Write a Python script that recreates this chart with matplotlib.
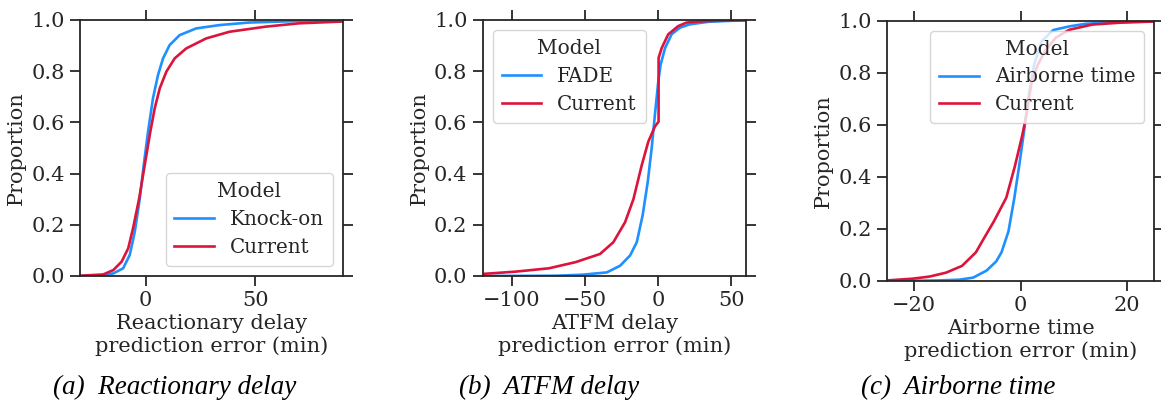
import numpy as np
import matplotlib
matplotlib.use("Agg")
import matplotlib.pyplot as plt

# ECDF curves: x = prediction error (min), p = proportion
# (a) Reactionary delay
knockon_x = [-30, -21, -14.8, -10.3, -7.3, -5.0, -2.7, -0.9, 1.06, 3.3, 5.6, 7.9, 10.9, 15.5, 23, 33.6, 47, 70, 90]
knockon_p = [0.0, 0.002, 0.01, 0.03, 0.082, 0.173, 0.303, 0.434, 0.564, 0.694, 0.785, 0.85, 0.902, 0.941, 0.967, 0.98, 0.99, 0.996, 0.998]
curr_a_x = [-30, -19.4, -14.8, -11, -8.0, -5.8, -3.0, -0.45, 2.1, 4.1, 6.4, 9.4, 13.2, 18.5, 27.6, 38.2, 54.8, 70, 90]
curr_a_p = [0.001, 0.006, 0.023, 0.056, 0.108, 0.186, 0.303, 0.434, 0.564, 0.655, 0.733, 0.798, 0.85, 0.889, 0.928, 0.954, 0.974, 0.987, 0.994]

# (b) ATFM delay
fade_x = [-120, -70, -52, -35.2, -26.1, -19.3, -14.7, -10.7, -7.2, -4.5, -2.3, 0, 1.6, 4.6, 9.1, 14.8, 21.6, 34.4, 50.3, 61]
fade_p = [0.0, 0.001, 0.005, 0.014, 0.04, 0.08, 0.132, 0.237, 0.368, 0.5, 0.63, 0.76, 0.826, 0.89, 0.944, 0.97, 0.983, 0.993, 0.997, 0.999]
curr_b_x = [-120, -97.5, -74.8, -56.6, -39.8, -30.7, -22.7, -17, -11.3, -6.8, -2.3, 0.2, 0.2, 2.3, 6.8, 13.6, 19.4, 30, 40, 61]
curr_b_p = [0.008, 0.017, 0.03, 0.054, 0.086, 0.132, 0.21, 0.30, 0.433, 0.525, 0.584, 0.603, 0.852, 0.89, 0.944, 0.976, 0.99, 0.995, 0.997, 0.999]

# (c) Airborne time
airborne_x = [-25, -15.8, -11.5, -8.9, -6.4, -4.6, -3.6, -2.3, -1.2, -0.26, 0.62, 1.4, 2.5, 3.9, 6.1, 9.1, 12.2, 18.4, 25.3]
airborne_p = [0.0, 0.002, 0.005, 0.013, 0.04, 0.075, 0.11, 0.19, 0.318, 0.446, 0.574, 0.70, 0.83, 0.92, 0.964, 0.978, 0.988, 0.995, 0.998]
curr_c_x = [-25.2, -20.2, -17.1, -14.0, -11.0, -8.4, -7.0, -5.0, -2.7, -1.1, 0.3, 1.1, 2.05, 3.2, 4.6, 6.6, 9.1, 13.4, 18.4, 25.3]
curr_c_p = [0.002, 0.009, 0.017, 0.032, 0.058, 0.11, 0.16, 0.23, 0.32, 0.44, 0.56, 0.64, 0.766, 0.83, 0.885, 0.935, 0.965, 0.985, 0.992, 0.997]

blue = "#1E90FF"
red = "#DC143C"

plt.rcParams["font.family"] = ["DejaVu Serif"]
plt.rcParams["font.size"] = 15
plt.rcParams["text.color"] = "#262626"
plt.rcParams["axes.labelcolor"] = "#262626"
plt.rcParams["xtick.color"] = "#262626"
plt.rcParams["ytick.color"] = "#262626"
plt.rcParams["axes.edgecolor"] = "#262626"
plt.rcParams["axes.linewidth"] = 1.3

fig = plt.figure(figsize=(11.61, 4.07), dpi=100)

panels = [
    dict(pos=[0.0689, 0.3219, 0.2265, 0.629], xlim=(-30, 90), xticks=[0, 50],
         curves=[(knockon_x, knockon_p, blue, "Knock-on"), (curr_a_x, curr_a_p, red, "Current")],
         xlabel="Reactionary delay\nprediction error (min)", loc="lower right",
         caption="(a)  Reactionary delay", cx=0.1507),
    dict(pos=[0.4158, 0.3219, 0.2268, 0.629], xlim=(-120, 60), xticks=[-100, -50, 0, 50],
         curves=[(fade_x, fade_p, blue, "FADE"), (curr_b_x, curr_b_p, red, "Current")],
         xlabel="ATFM delay\nprediction error (min)", loc="upper left",
         caption="(b)  ATFM delay", cx=0.473),
    dict(pos=[0.7643, 0.3096, 0.2297, 0.6396], xlim=(-25, 25), xticks=[-20, 0, 20],
         curves=[(airborne_x, airborne_p, blue, "Airborne time"), (curr_c_x, curr_c_p, red, "Current")],
         xlabel="Airborne time\nprediction error (min)", loc="upper right",
         caption="(c)  Airborne time", cx=0.825),
]

for pn in panels:
    ax = fig.add_axes(pn["pos"])
    for xs, ps, col, lab in pn["curves"]:
        ax.plot(xs, ps, color=col, lw=1.9, label=lab)
    ax.set_xlim(*pn["xlim"])
    ax.set_ylim(0, 1)
    ax.set_xticks(pn["xticks"])
    ax.set_yticks(np.arange(0, 1.01, 0.2))
    ax.yaxis.set_major_formatter(matplotlib.ticker.FormatStrFormatter("%.1f"))
    ax.tick_params(top=True, right=True, direction="out", length=7, width=1.3, pad=4)
    ax.set_ylabel("Proportion", labelpad=4)
    ax.set_xlabel(pn["xlabel"], labelpad=3, linespacing=1.2)
    leg = ax.legend(title="Model", loc=pn["loc"], framealpha=0.8, fontsize=14.3,
                    title_fontsize=14.5, handlelength=2.0, borderpad=0.45,
                    labelspacing=0.45)
    leg.get_frame().set_edgecolor("#cccccc")
    fig.text(pn["cx"], 0.047, pn["caption"], ha="center", va="center",
             fontsize=19.5, style="italic", family=["Liberation Serif"], color="black")

fig.savefig("out.png", dpi=100)
